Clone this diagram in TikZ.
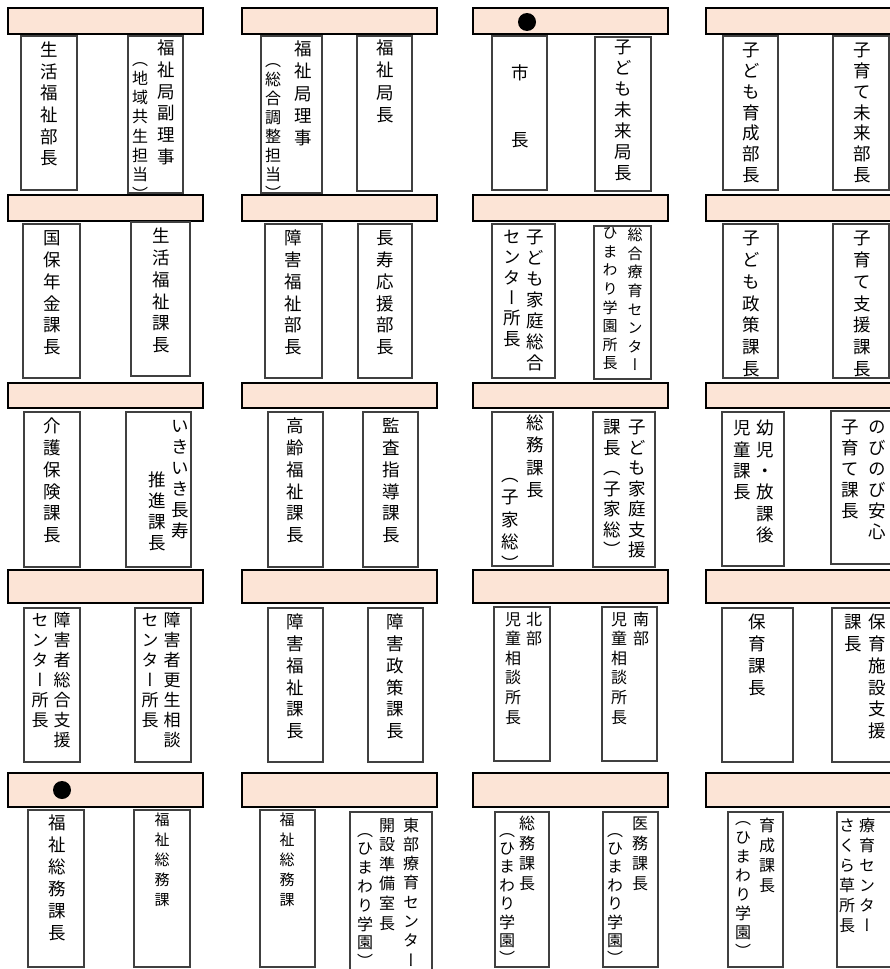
\documentclass[tikz,border=0pt]{standalone}
\usepackage{fontspec}
\newfontfamily\vjp[RawFeature=+vert]{Noto Sans CJK JP}
\definecolor{hdrfill}{HTML}{FCE4D6}
\definecolor{boxline}{HTML}{404040}

\ExplSyntaxOn
\cs_new_protected:Npn \vt_cell:nnn #1#2#3
 {
   \hbox_to_wd:nn { #1pt }
    { \hss \vrule height \dim_eval:n { #1pt * 38 / 100 + #2pt / 2 } depth \dim_eval:n { #2pt / 2 - #1pt * 38 / 100 } width 0pt #3 \hss }
 }
\NewDocumentCommand \vtext { m m m }
 {
   \vbox:n
    {
      \vjp \fontsize{#1}{#2} \selectfont
      \offinterlineskip
      \tl_map_inline:nn {#3} { \vt_cell:nnn {#1} {#2} {##1} }
    }
 }
\ExplSyntaxOff

\newcommand\hd[4]{\node[hdr, minimum width=195pt, minimum height=#4pt] (#1) at (#2,#3) {};}
\newcommand\bx[5]{\node[obox, minimum width=#4pt-#2pt, minimum height=#5pt-#3pt] (#1) at (#2,#3) {};}
\newcommand\vc[6]{\node[vt] (#1) at ({#2},{#3-#5/2}) {\vtext{#4}{#5}{#6}};}

\begin{document}
\begin{tikzpicture}[x=1pt,y=-1pt,
  hdr/.style={draw=black, line width=2.4pt, fill=hdrfill, inner sep=0pt, outer sep=0pt, anchor=north west},
  obox/.style={draw=boxline, line width=1.2pt, fill=white, inner sep=0pt, outer sep=0pt, anchor=north west},
  vt/.style={inner sep=0pt, outer sep=0pt, anchor=north},
  dot/.style={circle, fill=black, inner sep=0pt, minimum size=18pt}]
\useasboundingbox (0,0) rectangle (890,969);
\clip (0,0) rectangle (890,969);
\fill[white] (0,0) rectangle (890,969);

% Row 1
\hd{h11}{8}{8}{26}
\bx{b11a}{21}{36}{77}{190}
\vc{t11a}{49}{50}{17.5}{21.6}{生活福祉部長}
\bx{b11b}{128}{36}{183}{193}
\vc{t11b1}{166}{48}{17.5}{21.7}{福祉局副理事}
\vc{t11b2}{140}{59}{16}{19.3}{（地域共生担当）}

\hd{h12}{242}{8}{26}
\bx{b12a}{261}{36}{322}{193}
\vc{t12a1}{303}{49}{17.5}{22.3}{福祉局理事}
\vc{t12a2}{273}{60}{16}{19}{（総合調整担当）}
\bx{b12b}{357}{36}{412}{191}
\vc{t12b}{385}{48}{17.5}{22.3}{福祉局長}

\hd{h13}{473}{8}{26}
\node[dot] (d13) at (527,22) {};
\bx{b13a}{492}{36}{547}{190}
\vc{t13a}{520}{73}{17.5}{22.3}{市{}{}長}
\bx{b13b}{595}{37}{651}{191}
\vc{t13b}{623}{47}{17.5}{21}{子ども未来局長}

\hd{h14}{706}{8}{26}
\bx{b14a}{723}{36}{778}{190}
\vc{t14a}{751}{50}{17.5}{20.8}{子ども育成部長}
\bx{b14b}{833}{36}{889}{190}
\vc{t14b}{862}{50}{17.5}{20.8}{子育て未来部長}

% Row 2
\hd{h21}{8}{195}{26}
\bx{b21a}{23}{224}{80}{378}
\vc{t21a}{52}{238}{17.5}{21.8}{国保年金課長}
\bx{b21b}{131}{222}{190}{376}
\vc{t21b}{161}{236}{17.5}{21.8}{生活福祉課長}

\hd{h22}{242}{195}{26}
\bx{b22a}{265}{224}{322}{378}
\vc{t22a}{293}{238}{17.5}{21.8}{障害福祉部長}
\bx{b22b}{358}{224}{412}{378}
\vc{t22b}{385}{238}{17.5}{21.8}{長寿応援部長}

\hd{h23}{473}{195}{26}
\bx{b23a}{492}{224}{555}{378}
\vc{t23a1}{535}{237}{17.5}{21}{子ども家庭総合}
\vc{t23a2}{512}{237}{17.5}{20.3}{センター所長}
\bx{b23b}{594}{226}{651}{379}
\vc{t23b1}{635}{235}{15}{18.6}{総合療育センター}
\vc{t23b2}{610}{233}{15}{18.6}{ひまわり学園所長}

\hd{h24}{706}{195}{26}
\bx{b24a}{723}{224}{778}{378}
\vc{t24a}{751}{238}{17.5}{21.8}{子ども政策課長}
\bx{b24b}{833}{224}{889}{378}
\vc{t24b}{862}{238}{17.5}{21.8}{子育て支援課長}

% Row 3
\hd{h31}{8}{383}{25}
\bx{b31a}{24}{412}{80}{567}
\vc{t31a}{52}{426}{17.5}{21.8}{介護保険課長}
\bx{b31b}{126}{412}{191}{567}
\vc{t31b1}{180}{426}{17.5}{21}{いきいき長寿}
\vc{t31b2}{157}{480}{17.5}{21}{推進課長}

\hd{h32}{242}{383}{25}
\bx{b32a}{268}{412}{323}{567}
\vc{t32a}{295}{426}{17.5}{21.8}{高齢福祉課長}
\bx{b32b}{363}{412}{418}{567}
\vc{t32b}{391}{426}{17.5}{21.8}{監査指導課長}

\hd{h33}{473}{383}{25}
\bx{b33a}{492}{412}{553}{566}
\vc{t33a1}{535}{423}{17.5}{22.3}{総務課長}
\vc{t33a2}{510}{475}{17.5}{22.3}{（子家総）}
\bx{b33b}{593}{412}{655}{567}
\vc{t33b1}{637}{427}{17.5}{20.5}{子ども家庭支援}
\vc{t33b2}{612}{427}{17.5}{20.5}{課長（子家総）}

\hd{h34}{706}{383}{25}
\bx{b34a}{722}{412}{784}{566}
\vc{t34a1}{765}{428}{17.5}{21.4}{幼児・放課後}
\vc{t34a2}{742}{428}{17.5}{21.4}{児童課長}
\bx{b34b}{831}{411}{900}{564}
\vc{t34b1}{877}{427}{17.5}{21}{のびのび安心}
\vc{t34b2}{850}{427}{17.5}{21}{子育て課長}

% Row 4
\hd{h41}{8}{570}{33}
\bx{b41a}{24}{608}{80}{762}
\vc{t41a1}{62}{620}{17}{20}{障害者総合支援}
\vc{t41a2}{40}{620}{17}{20}{センター所長}
\bx{b41b}{135}{608}{191}{762}
\vc{t41b1}{172}{620}{17}{20}{障害者更生相談}
\vc{t41b2}{150}{620}{17}{20}{センター所長}

\hd{h42}{242}{570}{33}
\bx{b42a}{268}{608}{323}{762}
\vc{t42a}{295}{622}{17.5}{21.8}{障害福祉課長}
\bx{b42b}{368}{608}{423}{762}
\vc{t42b}{395}{622}{17.5}{21.8}{障害政策課長}

\hd{h43}{473}{570}{33}
\bx{b43a}{494}{607}{550}{761}
\vc{t43a1}{534}{619}{16}{19.6}{北部}
\vc{t43a2}{513}{619}{16}{19.6}{児童相談所長}
\bx{b43b}{602}{607}{657}{761}
\vc{t43b1}{641}{619}{16}{19.6}{南部}
\vc{t43b2}{619}{619}{16}{19.6}{児童相談所長}

\hd{h44}{706}{570}{33}
\bx{b44a}{722}{608}{793}{762}
\vc{t44a}{757}{622}{17.5}{21.8}{保育課長}
\bx{b44b}{832}{608}{900}{762}
\vc{t44b1}{877}{622}{17.5}{21.8}{保育施設支援}
\vc{t44b2}{853}{622}{17.5}{21.8}{課長}

% Row 5
\hd{h51}{8}{773}{34}
\node[dot] (d51) at (62,790) {};
\bx{b51a}{28}{810}{84}{967}
\vc{t51a}{57}{823}{17.5}{22}{福祉総務課長}
\bx{b51b}{134}{810}{190}{967}
\vc{t51b}{162}{820}{15}{20}{福祉総務課}

\hd{h52}{242}{773}{34}
\bx{b52a}{260}{810}{315}{967}
\vc{t52a}{287}{820}{15}{20}{福祉総務課}
\bx{b52b}{350}{812}{432}{980}
\vc{t52b1}{411}{825}{16}{19.3}{東部療育センター}
\vc{t52b2}{387}{825}{16}{19.6}{開設準備室長}
\vc{t52b3}{365}{830}{16}{18.8}{（ひまわり学園）}

\hd{h53}{473}{773}{34}
\bx{b53a}{495}{812}{549}{967}
\vc{t53a1}{527}{823}{16}{20}{総務課長}
\vc{t53a2}{507}{830}{16}{18.4}{（ひまわり学園）}
\bx{b53b}{603}{812}{658}{967}
\vc{t53b1}{640}{823}{16}{20}{医務課長}
\vc{t53b2}{615}{830}{16}{18.4}{（ひまわり学園）}

\hd{h54}{706}{773}{34}
\bx{b54a}{728}{812}{783}{967}
\vc{t54a1}{767}{825}{16}{20}{育成課長}
\vc{t54a2}{743}{818}{16}{19}{（ひまわり学園）}
\bx{b54b}{837}{812}{900}{967}
\vc{t54b1}{867}{825}{16}{20}{療育センター}
\vc{t54b2}{847}{825}{16}{20}{さくら草所長}
\end{tikzpicture}
\end{document}
